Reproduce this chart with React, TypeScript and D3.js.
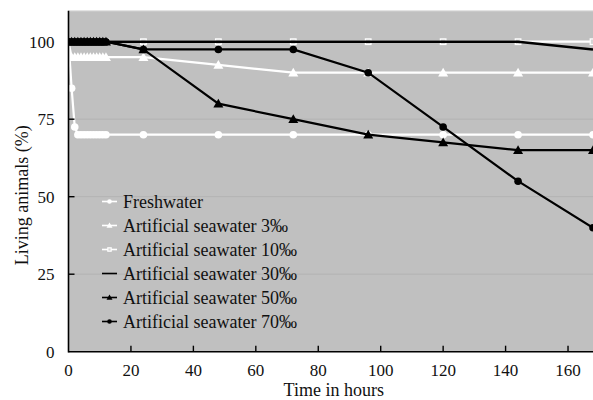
import React from 'react'
import * as d3 from 'd3'

// time points (hours) and survival (%) per medium
const hours = [0, 1, 2, 3, 4, 5, 6, 7, 8, 9, 10, 11, 12, 24, 48, 72, 96, 120, 144, 168]
const freshwater = [100, 85, 72.5, 70, 70, 70, 70, 70, 70, 70, 70, 70, 70, 70, 70, 70, 70, 70, 70, 70]
const sw3 = [100, 95, 95, 95, 95, 95, 95, 95, 95, 95, 95, 95, 95, 95, 92.5, 90, 90, 90, 90, 90]
const sw10 = [100, 100, 100, 100, 100, 100, 100, 100, 100, 100, 100, 100, 100, 100, 100, 100, 100, 100, 100, 100]
const sw30 = [100, 100, 100, 100, 100, 100, 100, 100, 100, 100, 100, 100, 100, 100, 100, 100, 100, 100, 100, 97.5]
const sw50 = [100, 100, 100, 100, 100, 100, 100, 100, 100, 100, 100, 100, 100, 97.5, 80, 75, 70, 67.5, 65, 65]
const sw70 = [100, 100, 100, 100, 100, 100, 100, 100, 100, 100, 100, 100, 100, 97.5, 97.5, 97.5, 90, 72.5, 55, 40]

const xTicks = [0, 20, 40, 60, 80, 100, 120, 140, 160]
const yTicks = [0, 25, 50, 75, 100]

type Marker = 'circle' | 'triangle' | 'square' | 'none'
type Series = { name: string; values: number[]; color: string; marker: Marker }

const series: Series[] = [
  { name: 'Freshwater', values: freshwater, color: '#ffffff', marker: 'circle' },
  { name: 'Artificial seawater 3‰', values: sw3, color: '#ffffff', marker: 'triangle' },
  { name: 'Artificial seawater 10‰', values: sw10, color: '#ffffff', marker: 'square' },
  { name: 'Artificial seawater 30‰', values: sw30, color: '#000000', marker: 'none' },
  { name: 'Artificial seawater 50‰', values: sw50, color: '#000000', marker: 'triangle' },
  { name: 'Artificial seawater 70‰', values: sw70, color: '#000000', marker: 'circle' },
]

const W = 593
const H = 400
const left = 68.5
const right = 593
const top = 10.7
const bottom = 351.7
const font = '"Liberation Serif", "Times New Roman", serif'

const drawMarker = (m: Marker, x: number, y: number, color: string, s: number, key: string) => {
  if (m === 'circle') return <circle key={key} cx={x} cy={y} r={3.8 * s} fill={color} />
  if (m === 'triangle') {
    const r = 5 * s
    return <path key={key} d={`M${x},${y - r}L${x + r},${y + r * 0.75}L${x - r},${y + r * 0.75}Z`} fill={color} />
  }
  if (m === 'square') {
    const r = 2.8 * s
    return (
      <rect key={key} x={x - r} y={y - r} width={2 * r} height={2 * r}
        fill="#d6d6d6" stroke="#ffffff" strokeWidth={1.2} />
    )
  }
  return null
}

const App: React.FC = () => {
  const x = d3.scaleLinear().domain([0, 168]).range([left, right])
  const y = d3.scaleLinear().domain([0, 110]).range([bottom, top])

  const line = d3.line<number>()
    .x((_, i) => x(hours[i]))
    .y(d => y(d))

  return (
    <div style={{ position: 'absolute', left: 0, top: 0 }}>
      <svg width={W} height={H} style={{ display: 'block', background: '#fff' }}>
        <defs>
          <clipPath id="plot">
            <rect x={left} y={top - 6} width={right - left + 10} height={bottom - top + 12} />
          </clipPath>
        </defs>
        <rect x={left} y={top} width={right - left} height={bottom - top} fill="#c0c0c0" />
        <line x1={left} x2={right} y1={top} y2={top} stroke="#e4e4e4" strokeWidth={1.2} />
        {[25, 50, 75, 100].map(v => (
          <line key={v} x1={left} x2={right} y1={y(v)} y2={y(v)} stroke="#b3b3b3" strokeWidth={1} />
        ))}

        <g clipPath="url(#plot)">
          {series.map(s => (
            <g key={s.name}>
              <path d={line(s.values) ?? ''} fill="none" stroke={s.color}
                strokeWidth={s.name.includes('30‰') ? 2.6 : 2.2} />
              {s.values.map((v, i) => drawMarker(s.marker, x(hours[i]), y(v), s.color, 1, `${s.name}-${i}`))}
            </g>
          ))}
        </g>

        {/* axes */}
        <line x1={left} x2={left} y1={top} y2={bottom + 0.8} stroke="#000" strokeWidth={1.6} />
        <line x1={left} x2={right} y1={bottom} y2={bottom} stroke="#000" strokeWidth={1.6} />
        {xTicks.filter(t => t > 0).map(t => (
          <line key={t} x1={x(t)} x2={x(t)} y1={bottom} y2={bottom - 6} stroke="#000" strokeWidth={1.4} />
        ))}
        {yTicks.filter(t => t > 0).map(t => (
          <line key={t} x1={left} x2={left + 6} y1={y(t)} y2={y(t)} stroke="#000" strokeWidth={1.4} />
        ))}
        {xTicks.map(t => (
          <text key={t} x={x(t)} y={bottom + 18} textAnchor="middle" dy="0.35em"
            fontFamily={font} fontSize={17} fill="#111">{t}</text>
        ))}
        {yTicks.map(t => (
          <text key={t} x={left - 14} y={y(t)} textAnchor="end" dy="0.35em"
            fontFamily={font} fontSize={17} fill="#111">{t}</text>
        ))}
        <text x={(left + right) / 2 + 3} y={bottom + 38.5} textAnchor="middle" dy="0.32em"
          fontFamily={font} fontSize={18} fill="#111">Time in hours</text>
        <text transform={`translate(22,${(top + bottom) / 2 + 14}) rotate(-90)`} textAnchor="middle" dy="0.35em"
          fontFamily={font} fontSize={18} fill="#111">Living animals (%)</text>

        {/* legend */}
        {series.map((s, i) => {
          const ly = 201.5 + i * 24
          return (
            <g key={s.name}>
              <line x1={102} x2={117} y1={ly} y2={ly} stroke={s.color} strokeWidth={1.6} />
              {drawMarker(s.marker, 109.5, ly, s.color, 0.6, `lg-${i}`)}
              <text x={123} y={ly} dy="0.35em" fontFamily={font} fontSize={18} fill="#111">{s.name}</text>
            </g>
          )
        })}
      </svg>
    </div>
  )
}

export default App
